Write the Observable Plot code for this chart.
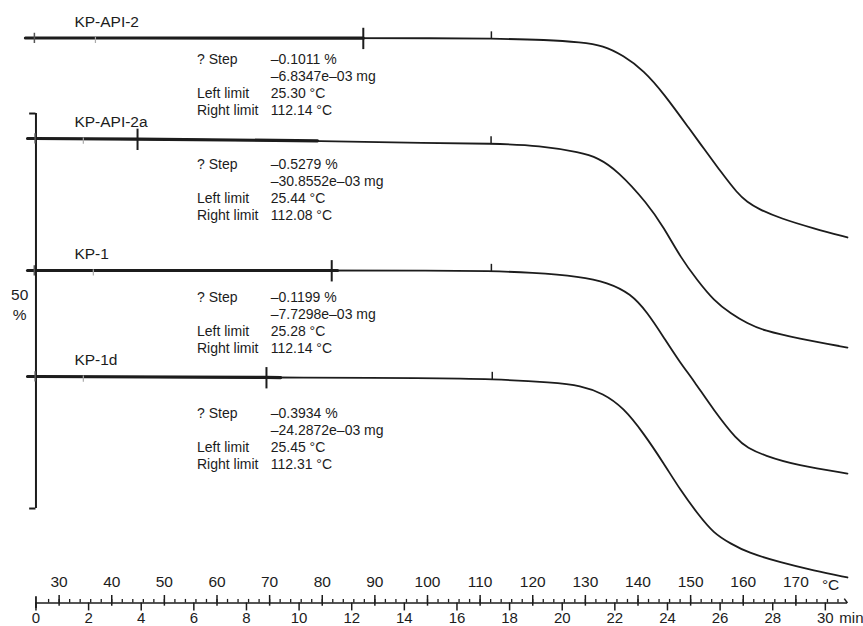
<!DOCTYPE html>
<html>
<head>
<meta charset="utf-8">
<script src="https://cdn.jsdelivr.net/npm/d3@7"></script>
<script src="https://cdn.jsdelivr.net/npm/@observablehq/plot@0.6"></script>
<style>
  html, body { margin: 0; padding: 0; background: #fff; }
  #chart svg { display: block; }
</style>
</head>
<body>
<div id="chart"></div>
<script>
// ---- Data (temperature °C, displayed mass in % on the stacked axis) ----
const samples = ["KP-API-2", "KP-API-2a", "KP-1", "KP-1d"];

const kpApi2Temp  = [23.6, 25.3, 45.0, 87.8, 100.6, 112.1, 122.8, 129.1, 133.4, 137.2, 141.1, 144.9, 150.0, 152.5, 155.7, 158.9, 160.8, 162.7, 167.1, 173.4, 179.8];
const kpApi2Mass  = [71.52, 71.52, 71.52, 71.50, 71.49, 71.45, 71.29, 70.99, 70.57, 69.30, 67.41, 64.49, 59.81, 57.53, 54.62, 51.84, 50.73, 49.94, 48.67, 47.41, 46.27];

const kpApi2aTemp = [24.0, 25.4, 44.9, 79.1, 100.6, 112.1, 121.5, 129.1, 132.3, 136.1, 141.8, 144.9, 148.1, 151.3, 154.4, 157.6, 160.8, 163.9, 170.3, 179.8];
const kpApi2aMass = [58.80, 58.80, 58.73, 58.50, 58.20, 58.17, 57.91, 57.03, 56.39, 54.75, 50.57, 47.53, 43.73, 40.82, 38.29, 36.65, 35.38, 34.49, 33.48, 32.34];

const kp1Temp     = [24.0, 25.3, 82.9, 100.6, 112.1, 119.6, 129.1, 134.2, 138.6, 141.8, 144.9, 148.1, 150.6, 154.4, 158.9, 160.8, 163.9, 170.3, 179.8];
const kp1Mass     = [42.09, 42.09, 42.09, 42.09, 42.02, 41.84, 41.33, 40.57, 39.18, 36.77, 33.61, 30.32, 28.16, 24.37, 20.57, 19.68, 18.67, 17.41, 16.39];

const kp1dTemp    = [24.0, 25.5, 69.4, 72.1, 100.6, 112.3, 123.9, 129.1, 133.4, 137.2, 141.1, 144.9, 148.1, 151.3, 154.4, 157.6, 160.8, 167.1, 173.4, 179.8];
const kp1dMass    = [28.67, 28.67, 28.55, 28.54, 28.46, 28.35, 27.91, 27.53, 26.52, 24.75, 21.46, 17.66, 14.24, 11.33, 8.80, 7.53, 6.39, 5.13, 4.11, 3.23];

const curveTemps = [kpApi2Temp, kpApi2aTemp, kp1Temp, kp1dTemp];
const curveMass  = [kpApi2Mass, kpApi2aMass, kp1Mass, kp1dMass];

// Step evaluation results
const stepPercent = ["–0.1011 %", "–0.5279 %", "–0.1199 %", "–0.3934 %"];
const stepMass    = ["–6.8347e–03 mg", "–30.8552e–03 mg", "–7.7298e–03 mg", "–24.2872e–03 mg"];
const leftLimit   = [25.30, 25.44, 25.28, 25.45];
const rightLimit  = [112.14, 112.08, 112.14, 112.31];
const markerTemp  = [87.8, 44.9, 81.8, 69.4];    // large cross on each curve
const faintTemp   = [36.9, 34.6, 36.5, 34.6];    // faint small ticks
const heavyUntil  = [87.8, 79.1, 82.9, 72.1];    // thick part of each trace

// Axis ticks
const tempLabels  = [30, 40, 50, 60, 70, 80, 90, 100, 110, 120, 130, 140, 150, 160, 170];
const tempMinor   = [28, 30, 32, 34, 36, 38, 40, 42, 44, 46, 48, 50, 52, 54, 56, 58, 60, 62, 64, 66, 68, 70, 72, 74, 76, 78, 80, 82, 84, 86, 88, 90, 92, 94, 96, 98, 100, 102, 104, 106, 108, 110, 112, 114, 116, 118, 120, 122, 124, 126, 128, 130, 132, 134, 136, 138, 140, 142, 144, 146, 148, 150, 152, 154, 156, 158, 160, 162, 164, 166, 168, 170, 172, 174, 176, 178];
const timeLabels  = [0, 2, 4, 6, 8, 10, 12, 14, 16, 18, 20, 22, 24, 26, 28, 30];
const startTemp   = 25.6;  // °C at 0 min
const heatingRate = 5;     // °C/min
const rulerEnd    = 179.8;
const scaleBarLow = 11.96, scaleBarSpan = 50;

// Layout (in axis units) for annotation blocks
const blockTop = [69.68, 56.39, 39.56, 24.87];
const colLabelT = 56.2, colValueT = 70.2;

// ---- Build tables ----
function valueAt(ts, vs, t) {
  const i = d3.bisectLeft(ts, t);
  if (i <= 0) return vs[0];
  if (i >= ts.length) return vs[vs.length - 1];
  const f = (t - ts[i - 1]) / (ts[i] - ts[i - 1]);
  return vs[i - 1] + f * (vs[i] - vs[i - 1]);
}
const rows = samples.flatMap((s, i) => curveTemps[i].map((T, j) => ({sample: s, idx: i, T, v: curveMass[i][j]})));
const heavyRows = rows.filter(d => d.T <= heavyUntil[d.idx] + 1e-9);
const markAt = temps => samples.map((s, i) => ({T: temps[i], v: valueAt(curveTemps[i], curveMass[i], temps[i])}));
const crossRows = markAt(markerTemp);
const leftRows = markAt(leftLimit);
const rightRows = markAt(rightLimit);
const faintRows = markAt(faintTemp);
const labelRows = samples.map((s, i) => ({name: s, T: 32.9, v: curveMass[i][0]}));
const blockRows = samples.map((s, i) => ({
  v: blockTop[i],
  values: `${stepPercent[i]}\n${stepMass[i]}\n${leftLimit[i].toFixed(2)} °C\n${rightLimit[i].toFixed(2)} °C`,
  labels: "? Step\n\u00a0\nLeft limit\nRight limit"
}));
const timeTemp = timeLabels.map(t => ({t, T: startTemp + heatingRate * t}));

const ink = "#1c1c1c";
const font = "'Liberation Sans', Arial, Helvetica, sans-serif";

const chart = Plot.plot({
  width: 863,
  height: 626,
  marginTop: 10,
  marginBottom: 23.5,
  marginLeft: 6,
  marginRight: 15,
  x: {domain: [20, 180], axis: null},
  y: {domain: [0, 75], axis: null},
  style: {fontFamily: font, background: "#fff", color: ink},
  marks: [
    // 50 % scale bracket
    Plot.ruleX([startTemp], {y1: scaleBarLow, y2: scaleBarLow + scaleBarSpan, stroke: ink, strokeWidth: 2}),
    Plot.ruleY([scaleBarLow, scaleBarLow + scaleBarSpan], {x1: 24.4, x2: startTemp, stroke: ink, strokeWidth: 2}),
    Plot.text(["50\n%"], {x: 22.5, y: 37.9, fontSize: 15.5, lineHeight: 1.3, textAnchor: "middle", lineAnchor: "middle", fill: ink}),

    // traces
    Plot.line(rows, {x: "T", y: "v", z: "sample", curve: "basis", stroke: ink, strokeWidth: 1.8}),
    Plot.line(heavyRows, {x: "T", y: "v", z: "sample", curve: "linear", stroke: ink, strokeWidth: 3.2}),

    // markers
    Plot.ruleX(crossRows, {x: "T", y1: d => d.v - 1.45, y2: d => d.v + 1.25, stroke: ink, strokeWidth: 2}),
    Plot.ruleX(leftRows, {x: "T", y1: d => d.v - 0.7, y2: d => d.v + 0.6, stroke: "#555", strokeWidth: 1.5}),
    Plot.ruleX(rightRows, {x: "T", y1: d => d.v - 0.1, y2: d => d.v + 0.85, stroke: ink, strokeWidth: 1.5}),
    Plot.ruleX(faintRows, {x: "T", y1: d => d.v - 0.7, y2: d => d.v + 0.1, stroke: "#aaa", strokeWidth: 1.2}),

    // sample names
    Plot.text(labelRows, {x: "T", y: "v", text: "name", dy: -16, textAnchor: "start", lineAnchor: "middle", fontSize: 15.5, fill: ink}),

    // step annotation blocks
    Plot.text(blockRows, {x: colLabelT, y: "v", text: "labels", textAnchor: "start", lineAnchor: "top", lineHeight: 1.2, fontSize: 14, fill: ink}),
    Plot.text(blockRows, {x: colValueT, y: "v", text: "values", textAnchor: "start", lineAnchor: "top", lineHeight: 1.2, fontSize: 14, fill: ink}),

    // ruler (temperature above, time below)
    Plot.ruleY([0], {x1: startTemp, x2: rulerEnd, stroke: ink, strokeWidth: 1.6}),
    Plot.ruleX(tempMinor, {y1: 0, y2: 0.45, stroke: ink, strokeWidth: 1.3}),
    Plot.ruleX(tempLabels, {y1: -0.4, y2: 0.95, stroke: ink, strokeWidth: 1.5}),
    Plot.ruleX(timeTemp, {x: "T", y1: 0, y2: -1.0, stroke: ink, strokeWidth: 1.5}),
    Plot.ruleX([startTemp], {y1: -0.7, y2: 0.8, stroke: ink, strokeWidth: 1.8}),
    Plot.link([0], {x1: rulerEnd - 0.6, y1: 0.55, x2: rulerEnd, y2: 0, stroke: ink, strokeWidth: 1.5}),
    Plot.text(tempLabels, {x: d => d, y: 2.6, text: d => String(d), fontSize: 15.5, textAnchor: "middle", lineAnchor: "middle", fill: ink}),
    Plot.text(timeTemp, {x: "T", y: -1.95, text: d => String(d.t), fontSize: 15, textAnchor: "middle", lineAnchor: "middle", fill: ink}),
    Plot.text(["min"], {x: startTemp + heatingRate * 30, y: -1.95, dx: 14, fontSize: 15, textAnchor: "start", lineAnchor: "middle", fill: ink}),
    Plot.text(["°C"], {x: 176.6, y: 2.3, fontSize: 15.5, textAnchor: "middle", lineAnchor: "middle", fill: ink})
  ]
});
document.getElementById("chart").appendChild(chart);
</script>
</body>
</html>
